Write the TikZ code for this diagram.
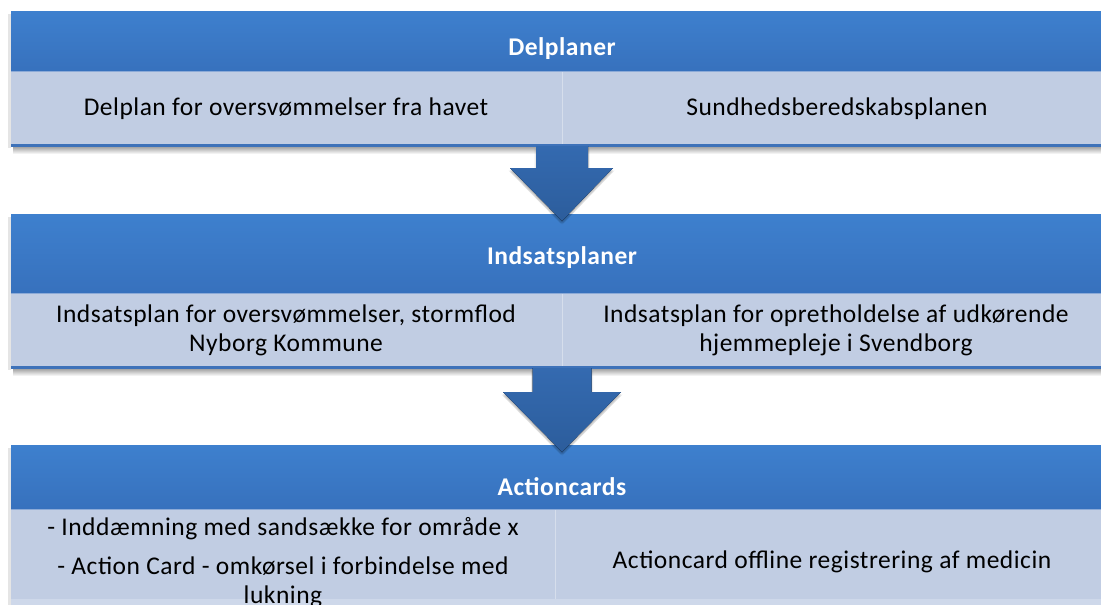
\documentclass[tikz,border=0pt]{standalone}
\usepackage{fontspec}
\setmainfont{Carlito}[LetterSpace=2]
\usetikzlibrary{calc}
\definecolor{hdtop}{RGB}{62,128,206}
\definecolor{hdbot}{RGB}{55,113,189}
\definecolor{rowc}{RGB}{193,205,227}
\definecolor{rowlow}{RGB}{206,216,234}
\definecolor{linec}{RGB}{62,114,185}
\definecolor{divc}{RGB}{214,222,236}
\definecolor{seamc}{RGB}{140,170,215}
\definecolor{arrtop}{RGB}{52,106,176}
\definecolor{arrbot}{RGB}{44,93,156}
\tikzset{
  hdr/.style={font=\fontsize{25.5}{29}\selectfont\bfseries, text=white, inner sep=0pt, anchor=base},
  cell/.style={font=\fontsize{25.5}{29}\selectfont, text=black, align=center, inner sep=0pt},
  band/.style={top color=hdtop, bottom color=hdbot},
  rowfill/.style={fill=rowc},
  botline/.style={fill=linec},
  divline/.style={draw=divc, line width=1pt},
  seam/.style={draw=seamc, line width=0.8pt},
  shade/.style={top color=black!40, bottom color=white},
  blockarrow/.style={top color=arrtop, bottom color=arrbot},
  arrowshadow/.style={fill=black, opacity=0.08},
}
\begin{document}
\begin{tikzpicture}[x=1pt,y=-1pt]
\useasboundingbox (0,0) rectangle (1101,605);
\clip (0,0) rectangle (1101,605);
\fill[white] (0,0) rectangle (1101,605);

% ---------- Box 1 ----------
\fill[shade] (13,146) rectangle (1113,154);
\fill[black, opacity=0.10] (8,14) rectangle (11,148);
\fill[band] (11,11) rectangle (1113,71);
\fill[rowfill] (11,71) rectangle (1113,144);
\draw[seam] (11,71.4) -- (1113,71.4);
\fill[botline] (11,144) rectangle (1113,146.5);
\draw[divline] (562,71.8) -- (562,143.5);
\node[hdr] (h1) at (562,55) {Delplaner};
\node[cell, anchor=base] (c11) at (286,115.5) {Delplan for oversvømmelser fra havet};
\node[cell, anchor=base] (c12) at (837,115.5) {Sundhedsberedskabsplanen};

% ---------- Box 2 ----------
\fill[shade] (13,368) rectangle (1113,376);
\fill[black, opacity=0.10] (8,217) rectangle (11,370);
\fill[band] (11,214) rectangle (1113,293);
\fill[rowfill] (11,293) rectangle (1113,366);
\draw[seam] (11,293.4) -- (1113,293.4);
\fill[botline] (11,366) rectangle (1113,368.5);
\draw[divline] (562,293.8) -- (562,365.5);
\node[hdr] (h2) at (562,264) {Indsatsplaner};
\node[cell] (c21) at (286,330) {Indsatsplan for oversvømmelser, stormflod\\Nyborg Kommune};
\node[cell] (c22) at (836,330) {Indsatsplan for opretholdelse af udkørende\\hjemmepleje i Svendborg};

% ---------- Box 3 ----------
\fill[black, opacity=0.10] (8,448) rectangle (11,605);
\fill[band] (11,445) rectangle (1113,509);
\fill[rowfill] (11,509) rectangle (1113,599);
\fill[rowlow] (11,599) rectangle (1113,605);
\draw[seam] (11,509.4) -- (1113,509.4);
\draw[divline] (555,509.8) -- (555,599);
\node[hdr] (h3) at (562,495.5) {Actioncards};
\node[cell, anchor=base] (c31) at (283,535.5) {- Inddæmning med sandsække for område x};
\node[cell] (c32) at (283,582) {- Action Card - omkørsel i forbindelse med\\lukning};
\node[cell, anchor=base] (c33) at (832,568) {Actioncard offline registrering af medicin};

% ---------- Arrows between boxes ----------
\coordinate (a1) at (562,146);
\coordinate (a1tip) at (562,221);
\coordinate (a2) at (562,368);
\coordinate (a2tip) at (562,452);
\foreach \dx/\dy in {0/2,0/3.5,1.5/2.5,-1.5/2.5}{
  \fill[arrowshadow] ($(a1)+(-26+\dx,\dy)$) -- ++(52,0) -- ++(0,22) -- ++(25,0) -- ($(a1tip)+(\dx,\dy)$) -- ($(a1)+(-52+\dx,22+\dy)$) -- ++(26,0) -- cycle;
  \fill[arrowshadow] ($(a2)+(-29.5+\dx,\dy)$) -- ++(59,0) -- ++(0,24) -- ++(29.5,0) -- ($(a2tip)+(\dx,\dy)$) -- ($(a2)+(-59+\dx,24+\dy)$) -- ++(29.5,0) -- cycle;
}
\fill[blockarrow] ($(a1)+(-26,0)$) -- ++(52,0) -- ++(0,22) -- ++(25,0) -- (a1tip) -- ($(a1)+(-52,22)$) -- ++(26,0) -- cycle;
\fill[blockarrow] ($(a2)+(-29.5,0)$) -- ++(59,0) -- ++(0,24) -- ++(29.5,0) -- (a2tip) -- ($(a2)+(-59,24)$) -- ++(29.5,0) -- cycle;
\end{tikzpicture}
\end{document}
